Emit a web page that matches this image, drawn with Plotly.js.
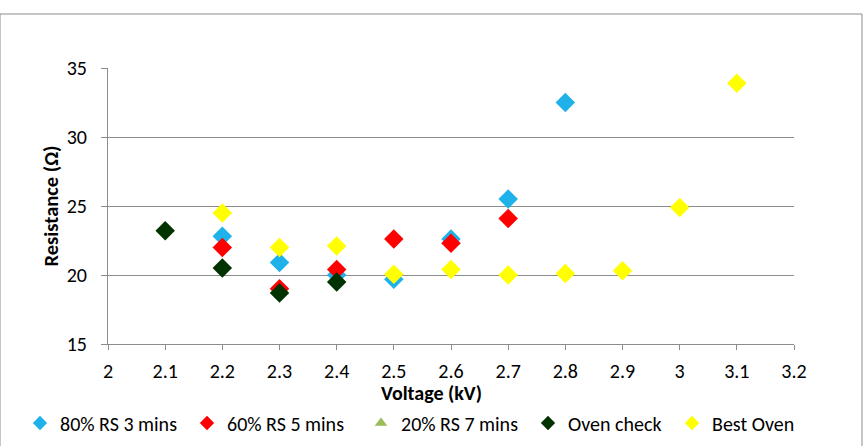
<!DOCTYPE html>
<html><head><meta charset="utf-8">
<script src="https://cdn.plot.ly/plotly-3.0.1.min.js"></script>
<style>html,body{margin:0;padding:0;background:#fff}#c{width:866px;height:446px}</style>
</head><body><div id="c"></div>
<script>
const rs80X = [2.2, 2.3, 2.4, 2.5, 2.6, 2.7, 2.8];
const rs80Y = [22.8, 20.9, 20.0, 19.7, 22.6, 25.5, 32.5];
const rs60X = [2.2, 2.3, 2.4, 2.5, 2.6, 2.7];
const rs60Y = [22.0, 19.0, 20.4, 22.6, 22.3, 24.1];
const rs20X = [];
const rs20Y = [];
const ovenX = [2.1, 2.2, 2.3, 2.4];
const ovenY = [23.2, 20.5, 18.7, 19.5];
const bestX = [2.2, 2.3, 2.4, 2.5, 2.6, 2.7, 2.8, 2.9, 3.0, 3.1];
const bestY = [24.5, 22.0, 22.1, 20.05, 20.4, 20.0, 20.1, 20.3, 24.9, 33.9];
const names = ['80% RS 3 mins', '60% RS 5 mins', '20% RS 7 mins', 'Oven check', 'Best Oven'];
const colors = ['#1FB2EA', '#FF0000', '#9BBB59', '#003300', '#FFFF00'];
const symbols = ['diamond', 'diamond', 'triangle-up', 'diamond', 'diamond'];
const xTicks = [2, 2.1, 2.2, 2.3, 2.4, 2.5, 2.6, 2.7, 2.8, 2.9, 3, 3.1, 3.2];
const yTicks = [15, 20, 25, 30, 35];

const FONT = 'Carlito, "Liberation Sans Narrow", "Open Sans", sans-serif';
const series = [[rs80X, rs80Y], [rs60X, rs60Y], [rs20X, rs20Y], [ovenX, ovenY], [bestX, bestY]];
const legendTextX = [62, 229, 403, 570, 714];
const legendIds = ['legend', 'legend2', 'legend3', 'legend4', 'legend5'];
const data = [];
series.forEach((s, i) => {
  data.push({x: s[0], y: s[1], name: names[i], type: 'scatter', mode: 'markers', showlegend: false,
    marker: {symbol: symbols[i], color: colors[i], size: 15, line: {width: 0}}, cliponaxis: false});
});
series.forEach((s, i) => {
  data.push({x: [null], y: [null], name: names[i], type: 'scatter', mode: 'markers', showlegend: true,
    legend: legendIds[i],
    marker: {symbol: symbols[i], color: colors[i], size: 11, line: {width: 0}}});
});
const layout = {
  width: 866, height: 446,
  margin: {l: 108, r: 72, t: 68, b: 102},
  paper_bgcolor: '#fff', plot_bgcolor: '#fff',
  font: {family: FONT, size: 20, color: '#000'},
  showlegend: true,
  xaxis: {range: [2, 3.2], tickvals: xTicks, ticktext: xTicks.map(String),
    showgrid: false, zeroline: false, showline: true, linecolor: '#8c8c8c', linewidth: 1,
    ticks: 'outside', ticklen: 5, tickcolor: '#8c8c8c', tickfont: {size: 20}, ticklabelstandoff: 4},
  yaxis: {range: [15, 35], tickvals: yTicks, showgrid: true, gridcolor: '#8c8c8c', gridwidth: 1,
    zeroline: false, showline: true, linecolor: '#8c8c8c', linewidth: 1,
    ticks: 'outside', ticklen: 6, tickcolor: '#8c8c8c', tickfont: {size: 20}, ticklabelstandoff: 10,
    title: {text: '<b>Resistance (Ω)</b>', font: {size: 20.5}, standoff: 2}},
  annotations: [{text: '<b>Voltage (kV)</b>', xref: 'paper', yref: 'paper', x: (431 - 108) / 686, y: (344 - 393) / 276,
    xanchor: 'center', yanchor: 'middle', showarrow: false, font: {size: 20}}],
  shapes: [{type: 'rect', xref: 'paper', yref: 'paper', x0: -108/686, x1: (862-108)/686,
    y0: -110/276, y1: (344-14)/276, line: {color: '#8c8c8c', width: 1}, layer: 'below'}]
};
legendIds.forEach((id, i) => {
  layout[id] = {orientation: 'h', xref: 'container', yref: 'container', x: (legendTextX[i] - 42) / 866,
    xanchor: 'left', y: (446 - 423) / 446, yanchor: 'middle', font: {size: 20}, itemwidth: 30,
    bgcolor: 'rgba(0,0,0,0)'};
});
Plotly.newPlot('c', data, layout, {staticPlot: true});
</script></body></html>
